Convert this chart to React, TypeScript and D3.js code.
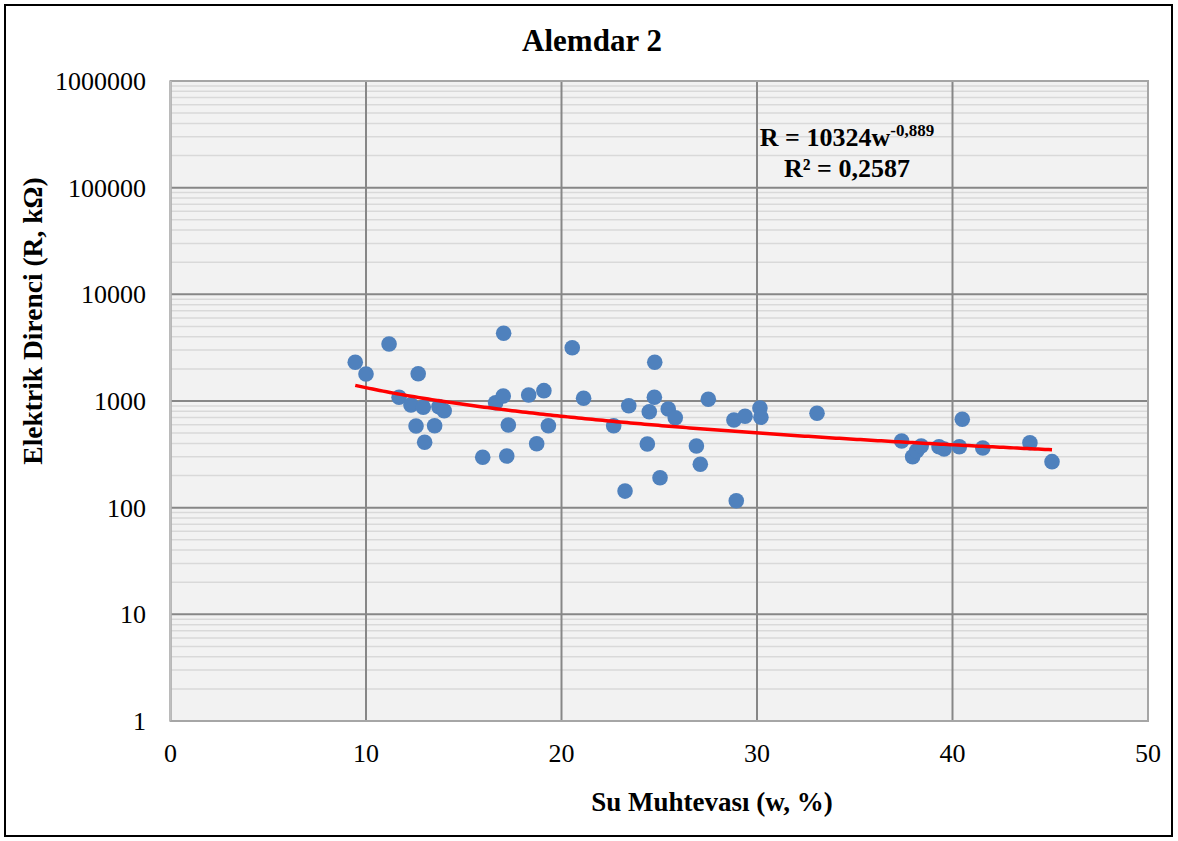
import React from "react";
import * as d3 from "d3";

const title = "Alemdar 2";
const xLabel = "Su Muhtevası (w, %)";
const yLabel = "Elektrik Direnci (R, kΩ)";
const xTicks = [0, 10, 20, 30, 40, 50];
const yTicks = [1, 10, 100, 1000, 10000, 100000, 1000000];

const waterContent = [
  9.45, 10.0, 11.18, 11.69, 12.3, 12.67, 12.56, 13.0, 12.93, 13.51, 13.73, 14.0,
  15.97, 17.2, 17.28, 16.63, 17.02, 17.04, 18.32, 18.73, 19.1, 19.33, 20.55, 21.13,
  22.67, 23.25, 23.44, 24.39, 24.49, 24.75, 24.77, 25.04, 25.46, 25.82, 26.9, 27.1,
  27.51, 28.82, 28.94, 29.39, 30.15, 30.2, 33.07, 37.4, 37.96, 38.17, 38.4, 39.31,
  39.57, 40.35, 40.5, 41.55, 43.96, 45.09,
];
const resistance = [
  2306, 1790, 3420, 1085, 920, 1800, 583, 410, 873, 587, 885, 811,
  297, 305, 596, 964, 1114, 4313, 1138, 398, 1250, 587, 3160, 1060,
  587, 143, 903, 395, 794, 1083, 2306, 191, 841, 697, 378, 255,
  1037, 664, 116, 719, 859, 703, 767, 422, 300, 342, 378, 373,
  355, 373, 674, 362, 406, 270,
];
const fitCoef = 10324;
const fitExp = -0.889;
const fitRange = [9.45, 45.09];

export default function App() {
  const W = 1178, H = 841;
  const left = 170.5, right = 1148, top = 81, bottom = 721;
  const x = d3.scaleLinear().domain([0, 50]).range([left, right]);
  const y = d3.scaleLog().domain([1, 1000000]).range([bottom, top]);

  const minor: number[] = [];
  for (let e = 0; e < 6; e++) {
    for (let k = 2; k <= 9; k++) minor.push(k * Math.pow(10, e));
  }

  const fitPts = d3.range(0, 201).map((i) => {
    const w = fitRange[0] + ((fitRange[1] - fitRange[0]) * i) / 200;
    return [w, fitCoef * Math.pow(w, fitExp)] as [number, number];
  });
  const line = d3
    .line<[number, number]>()
    .x((d) => x(d[0]))
    .y((d) => y(d[1]));

  const serif = "'Liberation Serif', 'Times New Roman', serif";
  const pts = waterContent.map((w, i) => ({ w, r: resistance[i] }));

  return (
    <svg
      width={W}
      height={H}
      style={{ position: "absolute", left: 0, top: 0, background: "#fff" }}
      fontFamily={serif}
    >
      <rect x={5} y={5} width={1167} height={831} fill="#fff" stroke="#000" strokeWidth={2} />
      <rect x={left} y={top} width={right - left} height={bottom - top} fill="#f2f2f2" />
      {minor.map((v) => (
        <line key={"m" + v} x1={left} x2={right} y1={y(v)} y2={y(v)} stroke="#d9d9d9" strokeWidth={1.5} />
      ))}
      {yTicks.map((v) => (
        <line key={"y" + v} x1={left} x2={right} y1={y(v)} y2={y(v)} stroke="#878787" strokeWidth={2} />
      ))}
      {xTicks.map((v) => (
        <line key={"x" + v} x1={x(v)} x2={x(v)} y1={top} y2={bottom} stroke="#878787" strokeWidth={2} />
      ))}
      <rect x={left} y={top} width={right - left} height={bottom - top} fill="none" stroke="#a6a6a6" strokeWidth={2} />
      <line x1={left} x2={left} y1={top} y2={bottom} stroke="#bfbfbf" strokeWidth={2} />
      <line x1={left} x2={right} y1={bottom} y2={bottom} stroke="#a6a6a6" strokeWidth={2} />

      {pts.map((p, i) => (
        <circle key={i} cx={x(p.w)} cy={y(p.r)} r={7.8} fill="#4f81bd" />
      ))}
      <path d={line(fitPts) || ""} fill="none" stroke="#ff0000" strokeWidth={3.5} />

      {yTicks.map((v) => (
        <text key={"yl" + v} x={146} y={y(v) + 9} textAnchor="end" fontSize={26} fill="#000">
          {String(v)}
        </text>
      ))}
      {xTicks.map((v) => (
        <text key={"xl" + v} x={x(v)} y={762} textAnchor="middle" fontSize={26} fill="#000">
          {String(v)}
        </text>
      ))}

      <text x={592} y={51} textAnchor="middle" fontSize={31} fontWeight="bold">
        {title}
      </text>
      <text x={712} y={811} textAnchor="middle" fontSize={27} fontWeight="bold">
        {xLabel}
      </text>
      <text
        transform={`translate(42,321) rotate(-90)`}
        textAnchor="middle"
        fontSize={27.5}
        fontWeight="bold"
      >
        {yLabel}
      </text>

      <text x={847} y={146} textAnchor="middle" fontSize={26} fontWeight="bold">
        R = 10324w
        <tspan dy={-10} fontSize={17}>-0,889</tspan>
      </text>
      <text x={847} y={177} textAnchor="middle" fontSize={26} fontWeight="bold">
        R² = 0,2587
      </text>
    </svg>
  );
}
